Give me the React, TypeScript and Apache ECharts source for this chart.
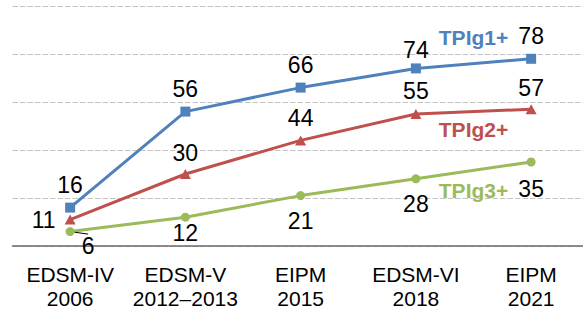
import React, { useEffect, useRef } from "react";
import * as echarts from "echarts";

const categories = ["EDSM-IV\n2006", "EDSM-V\n2012–2013", "EIPM\n2015", "EDSM-VI\n2018", "EIPM\n2021"];
const seriesNames = ["TPIg1+", "TPIg2+", "TPIg3+"];
const tpig1 = [16, 56, 66, 74, 78];
const tpig2 = [11, 30, 44, 55, 57];
const tpig3 = [6, 12, 21, 28, 35];
const yTicks = [0, 20, 40, 60, 80, 100];

const FONT = "'Liberation Sans', Arial, sans-serif";
const BLUE = "#4F81BD";
const RED = "#C0504D";
const GREEN = "#9BBB59";

export default function App() {
  const ref = useRef<HTMLDivElement>(null);
  useEffect(() => {
    document.body.style.margin = "0";
    if (!ref.current) return;
    const chart = echarts.init(ref.current, null, { renderer: "svg" });

    const pts = (arr: number[]) => arr.map((v, i) => [i, v]);
    const dataLabel = {
      show: true,
      fontSize: 23,
      fontFamily: FONT,
      color: "#000",
    };
    const nameMark = (name: string, color: string, coord: number[]) => ({
      symbol: "circle",
      symbolSize: 0,
      silent: true,
      label: {
        show: true,
        position: "inside",
        formatter: name,
        color,
        fontSize: 21,
        fontWeight: "bold",
        fontFamily: FONT,
      },
      data: [{ coord }],
    });

    const blueDist = [6, 6, 6, 2, 6];
    const redDist = [9, 5, 6, 7, 5];
    const greenDist = [0, 0, 9, 9, 11];

    const blue = pts(tpig1).map((p, i) => ({ value: p, label: { distance: blueDist[i] } }));
    const red = pts(tpig2).map((p, i) =>
      i === 0
        ? { value: p, label: { position: "left", distance: redDist[i] } }
        : { value: p, label: { distance: redDist[i] } }
    );
    const green = pts(tpig3).map((p, i) =>
      i === 0
        ? {
            value: p,
            label: { distance: greenDist[i] },
            labelLine: { show: true, lineStyle: { color: "#000", width: 1 } },
          }
        : { value: p, label: { distance: greenDist[i] }, labelLine: { show: false } }
    );

    chart.setOption({
      animation: false,
      grid: { left: 12.5, right: 0, top: 6, bottom: 59, containLabel: false },
      xAxis: {
        type: "value",
        min: -0.5,
        max: 4.45,
        interval: 0.5,
        axisLine: { show: true, onZero: true, lineStyle: { color: "#6a6a6a", width: 1.5 } },
        axisTick: { show: false },
        splitLine: { show: false },
        axisLabel: {
          show: true,
          margin: 16,
          fontSize: 21,
          lineHeight: 24,
          fontFamily: FONT,
          color: "#000",
          showMinLabel: true,
          showMaxLabel: false,
          formatter: (v: number) => {
            const r = Math.round(v);
            return Math.abs(v - r) < 1e-6 && r >= 0 && r < categories.length ? categories[r] : "";
          },
        },
      },
      yAxis: {
        type: "value",
        min: yTicks[0],
        max: yTicks[yTicks.length - 1],
        interval: 20,
        axisLine: { show: false },
        axisTick: { show: false },
        axisLabel: { show: false },
        splitLine: {
          show: true,
          lineStyle: { color: "#c4c4c4", type: [5.5, 2], width: 1 },
        },
      },
      series: [
        {
          name: seriesNames[2],
          type: "line",
          data: green,
          symbol: "circle",
          symbolSize: 9,
          lineStyle: { color: GREEN, width: 3 },
          itemStyle: { color: GREEN },
          label: { ...dataLabel, position: "bottom" },
          labelLine: { show: false, lineStyle: { color: "#000", width: 1 } },
          labelLayout: (params: any) =>
            params.dataIndex === 0 ? { dx: 18, dy: -2 } : {},
          markPoint: nameMark(seriesNames[2], GREEN, [3.5, 23.3]),
          z: 2,
        },
        {
          name: seriesNames[1],
          type: "line",
          data: red,
          symbol: "triangle",
          symbolSize: [11, 10],
          lineStyle: { color: RED, width: 3 },
          itemStyle: { color: RED },
          label: { ...dataLabel, position: "top" },
          markPoint: nameMark(seriesNames[1], RED, [3.5, 48.6]),
          z: 3,
        },
        {
          name: seriesNames[0],
          type: "line",
          data: blue,
          symbol: "rect",
          symbolSize: 10,
          lineStyle: { color: BLUE, width: 3 },
          itemStyle: { color: BLUE },
          label: { ...dataLabel, position: "top" },
          markPoint: nameMark(seriesNames[0], BLUE, [3.5, 87]),
          z: 4,
        },
      ],
    });
    return () => chart.dispose();
  }, []);
  return <div ref={ref} style={{ width: 583, height: 310 }} />;
}
